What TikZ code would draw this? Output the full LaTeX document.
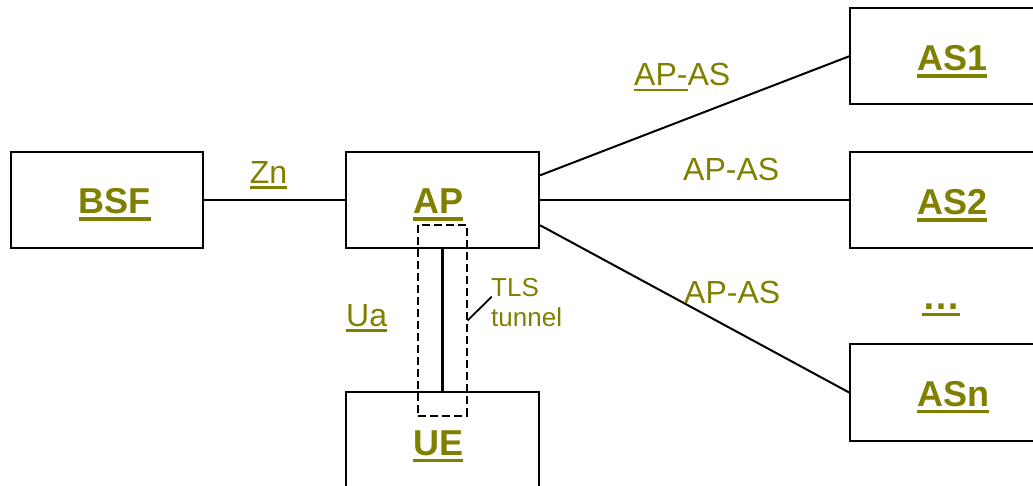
\documentclass[tikz,border=0pt]{standalone}
\usepackage{fontspec}
\setmainfont{Liberation Sans}
\definecolor{olivetext}{RGB}{128,128,0}
\newcommand\ulbold[1]{\setbox0=\hbox{#1}\rlap{\rule[-6.7pt]{\wd0}{3.4pt}}\box0}
\newcommand\ulreg[1]{\setbox0=\hbox{#1}\rlap{\rule[-5.3pt]{\wd0}{2.6pt}}\box0}
\tikzset{
  entity/.style={draw=black, line width=2.3pt, inner sep=0pt, minimum height=96pt},
  boxlabel/.style={text=olivetext, inner sep=0pt, anchor=base, font=\fontsize{36}{40}\selectfont\bfseries},
  iflabel/.style={text=olivetext, inner sep=0pt, anchor=base west, font=\fontsize{32}{36}\selectfont},
  smalllabel/.style={text=olivetext, inner sep=0pt, anchor=base west, font=\fontsize{26}{30}\selectfont},
  link/.style={draw=black, line width=2pt},
  tunnelbox/.style={draw=black, line width=1.8pt, dash pattern=on 8pt off 4pt, inner sep=0pt}
}
\begin{document}
\begin{tikzpicture}[x=1pt,y=-1pt]
\useasboundingbox (0,0) rectangle (1033,486);
\clip (0,0) rectangle (1033,486);
% boxes
\node[entity, minimum width=192.3pt] (bsf) at (106.85,200.3) {};
\node[entity, minimum width=193pt] (ap) at (442.5,200.3) {};
\node[entity, minimum width=193pt, minimum height=150pt] (ue) at (442.5,467.3) {};
\node[entity, minimum width=200pt] (as1) at (950.3,56.3) {};
\node[entity, minimum width=200pt] (as2) at (950.3,200.3) {};
\node[entity, minimum width=200pt, minimum height=96.4pt] (asn) at (950.3,392.5) {};
% box labels
\node[boxlabel] (bsft) at (114.5,214) {\ulbold{BSF}};
\node[boxlabel] (apt) at (438.3,214) {\ulbold{AP}};
\node[boxlabel] (uet) at (438.3,455.5) {\ulbold{UE}};
\node[boxlabel] (as1t) at (952.3,71) {\ulbold{AS1}};
\node[boxlabel] (as2t) at (952.3,215) {\ulbold{AS2}};
\node[boxlabel] (asnt) at (953.3,406.7) {\ulbold{ASn}};
\node[boxlabel, font=\fontsize{38}{42}\selectfont\bfseries] (dots) at (941,309.5) {\ulbold{…}};
% connectors
\draw[link] (bsf.east) -- (ap.west);
\draw[link] (ap.east) -- (as2.west);
\draw[link] ([yshift=25pt]ap.east) -- (as1.west);
\draw[link] ([yshift=-25pt]ap.east) -- (asn.west);
\draw[link, line width=2.4pt] (ap.south) -- (ue.north);
% tunnel
\node[tunnelbox, minimum width=48.4pt, minimum height=191pt] (tunnel) at (442.5,320.5) {};
\coordinate (tlsend) at (491.7,296.7);
\draw[link, line width=1.8pt] (tunnel.east) -- (tlsend);
% interface labels
\node[iflabel, anchor=base] (zn) at (268.5,183.3) {\ulreg{Zn}};
\node[iflabel] (ua) at (346,326.7) {\ulreg{Ua}};
\node[iflabel] (apas1) at (634,86) {\ulreg{AP-}AS};
\node[iflabel] (apas2) at (683,180.5) {AP-AS};
\node[iflabel] (apas3) at (684,303.3) {AP-AS};
\node[smalllabel] (tls) at (491,296.7) {TLS};
\node[smalllabel] (tun) at (491,326.7) {tunnel};
\end{tikzpicture}
\end{document}
